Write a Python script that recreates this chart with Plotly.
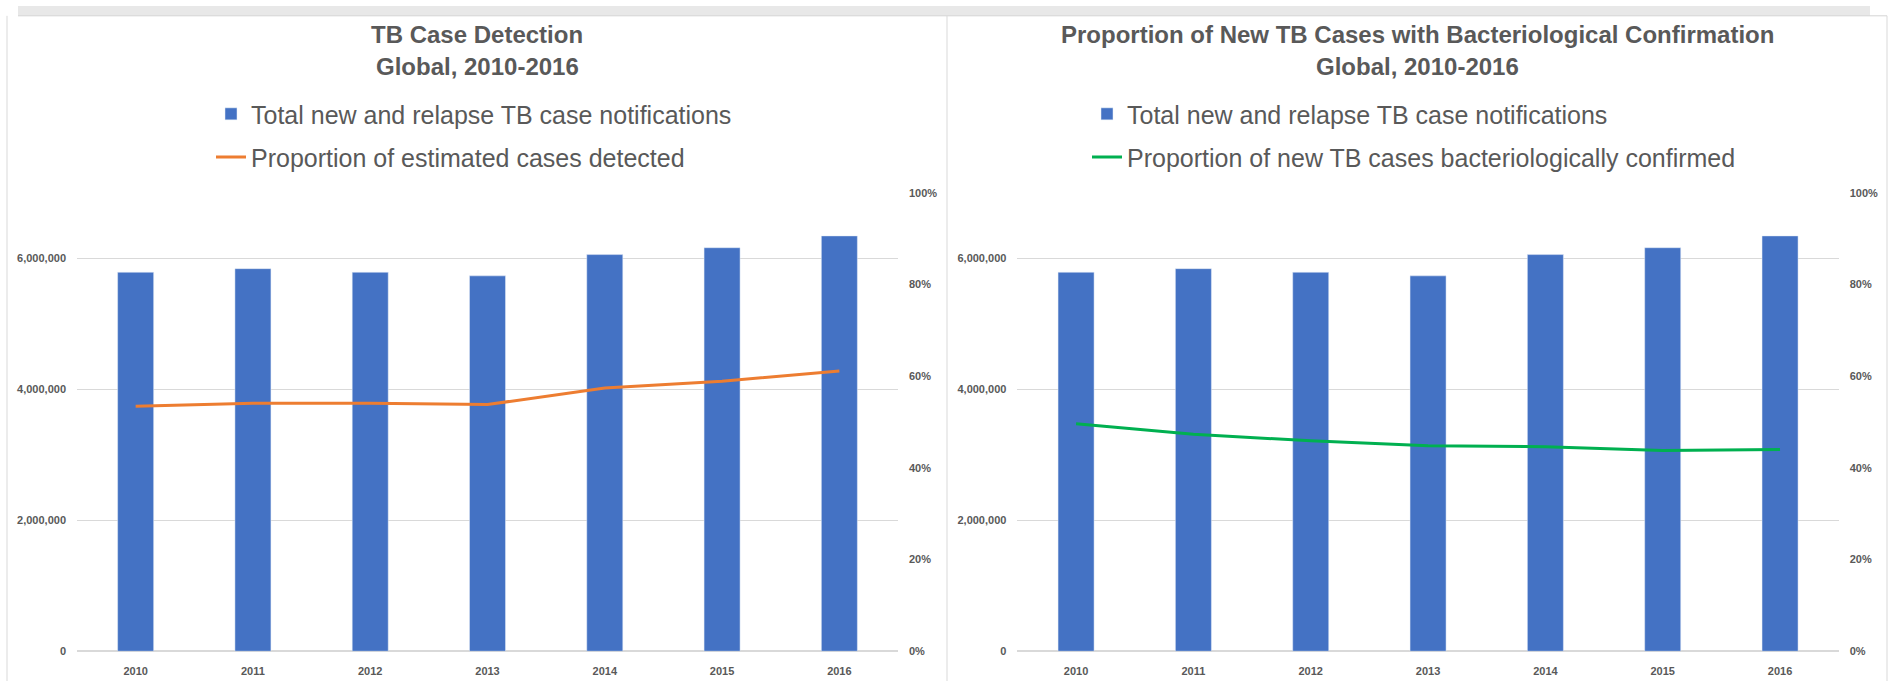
import plotly.graph_objects as go

W, H = 1889, 687

years = ["2010", "2011", "2012", "2013", "2014", "2015", "2016"]
notifications = [5785000, 5840000, 5785000, 5730000, 6055000, 6160000, 6340000]
detected = [0.534, 0.541, 0.541, 0.538, 0.574, 0.589, 0.611]
confirmed = [0.496, 0.473, 0.459, 0.448, 0.446, 0.438, 0.440]

left_title = ["TB Case Detection", "Global, 2010-2016"]
right_title = ["Proportion of New TB Cases with Bacteriological Confirmation", "Global, 2010-2016"]
bar_name = "Total new and relapse TB case notifications"
det_name = "Proportion of estimated cases detected"
conf_name = "Proportion of new TB cases bacteriologically confirmed"

left_ticks = [0, 2000000, 4000000, 6000000]
right_ticks = [0, 0.2, 0.4, 0.6, 0.8, 1.0]

FONT = "Liberation Sans, Arial, sans-serif"
GRAY = "#595959"
BLUE = "#4472C4"
ORANGE = "#ED7D31"
GREEN = "#00B050"


def px(x):
    return x / W


def py(y):
    return 1 - y / H


plot_top, plot_bot = 190.0, 656.7
ydom = [py(plot_bot), py(plot_top)]
x1dom = [px(77), px(898)]
x2dom = [px(1017.4), px(1838.7)]

fig = go.Figure()
fig.add_trace(go.Bar(x=years, y=notifications, name=bar_name, marker=dict(color=BLUE),
                     xaxis="x", yaxis="y", legend="legend"))
fig.add_trace(go.Scatter(x=years, y=detected, name=det_name, mode="lines",
                         line=dict(color=ORANGE, width=3), xaxis="x", yaxis="y2", legend="legend2"))
fig.add_trace(go.Bar(x=years, y=notifications, name=bar_name, marker=dict(color=BLUE),
                     xaxis="x2", yaxis="y3", legend="legend3"))
fig.add_trace(go.Scatter(x=years, y=confirmed, name=conf_name, mode="lines",
                         line=dict(color=GREEN, width=3), xaxis="x2", yaxis="y4", legend="legend4"))

tickfont = dict(family=FONT, size=11, color=GRAY, weight="bold")

common_x = dict(type="category", showgrid=False, zeroline=False, showline=False,
                tickfont=tickfont, ticks="", ticklabelstandoff=12, fixedrange=True)
common_yl = dict(range=[0, 7000000], tickvals=left_ticks, tickformat=",", showgrid=True,
                 gridcolor="#d9d9d9", gridwidth=1, zeroline=True, zerolinecolor="#d9d9d9",
                 zerolinewidth=2, showline=False, tickfont=tickfont, ticks="",
                 ticklabelstandoff=10, domain=ydom)
common_yr = dict(range=[0, 1], tickvals=right_ticks, tickformat=".0%", showgrid=False,
                 zeroline=False, showline=False, tickfont=tickfont, ticks="",
                 ticklabelstandoff=10, side="right")

legfont = dict(family=FONT, size=25, color=GRAY)


def leg(xtext, ycen):
    return dict(x=px(xtext - 40), y=py(ycen), xanchor="left", yanchor="middle",
                font=legfont, bgcolor="rgba(0,0,0,0)", borderwidth=0, itemwidth=30)


annotations = []
for lines, cx in ((left_title, 477), (right_title, 1417)):
    for txt, cy in zip(lines, (29, 62)):
        annotations.append(dict(text="<b>" + txt + "</b>", x=px(cx), y=py(cy), xref="paper",
                                yref="paper", xanchor="center", yanchor="middle",
                                showarrow=False, font=dict(family=FONT, size=24, color=GRAY)))

line_col = "#d9d9d9"
shapes = [
    dict(type="rect", xref="paper", yref="paper", x0=px(18), x1=px(1870), y0=py(10), y1=py(0),
         fillcolor="#e8e8e8", line=dict(width=0), layer="below"),
    dict(type="line", xref="paper", yref="paper", x0=px(18), x1=px(1887), y0=py(10), y1=py(10),
         line=dict(color="#d4d4d4", width=1)),
    dict(type="line", xref="paper", yref="paper", x0=px(7), x1=px(7), y0=py(10), y1=0,
         line=dict(color=line_col, width=1)),
    dict(type="line", xref="paper", yref="paper", x0=px(947), x1=px(947), y0=py(10), y1=0,
         line=dict(color=line_col, width=1)),
    dict(type="line", xref="paper", yref="paper", x0=px(1887), x1=px(1887), y0=py(10), y1=0,
         line=dict(color=line_col, width=1)),
]

fig.update_layout(
    width=W, height=H, autosize=False,
    margin=dict(l=0, r=0, t=0, b=0),
    paper_bgcolor="white", plot_bgcolor="white",
    bargap=0.693,
    showlegend=True,
    xaxis=dict(domain=x1dom, anchor="y", **common_x),
    yaxis=dict(anchor="x", **common_yl),
    yaxis2=dict(anchor="x", overlaying="y", **common_yr),
    xaxis2=dict(domain=x2dom, anchor="y3", **common_x),
    yaxis3=dict(anchor="x2", **common_yl),
    yaxis4=dict(anchor="x2", overlaying="y3", **common_yr),
    legend=leg(251, 110),
    legend2=leg(251, 154),
    legend3=leg(1127, 110),
    legend4=leg(1127, 154),
    annotations=annotations,
    shapes=shapes,
)

fig.write_html("out.html")
